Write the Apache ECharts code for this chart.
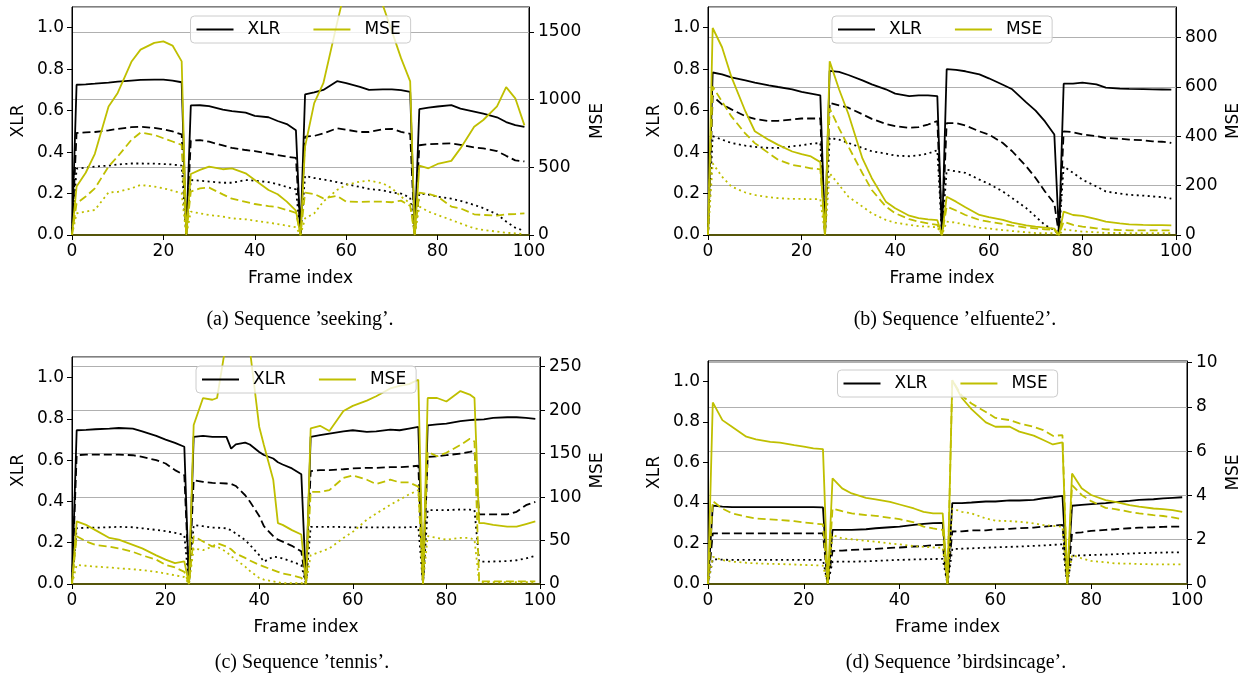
<!DOCTYPE html>
<html>
<head>
<meta charset="utf-8">
<script src="https://cdn.jsdelivr.net/npm/echarts@6/dist/echarts.min.js"></script>
<style>
  html, body { margin: 0; padding: 0; background: #fff; }
  #chart { width: 1245px; height: 678px; }
</style>
</head>
<body>
<div id="chart"></div>
<script>
// frames sampled for seeking, elfuente2 and birdsincage
const frames = [0,1,3,5,8,10,13,15,18,20,22,24, 25,26,28,30,33,35,38,40,43,45,47,49,
  50,51,53,55,58,60,63,65,68,70,72,74, 75,76,78,80,83,85,88,90,93,95,97,99];
// tennis has a few extra frames around the jumps
const tennisFrames = [0,1,3,5,8,10,13,15,18,20,22,24, 25,26,28,30,31,33,34,35,37,38,40,41,43,44,45,47,49,
  50,51,53,55,58,60,63,65,68,70,72,74, 75,76,78,80,83,85,86,87,88,90,93,95,97,99];

const xTicks = [0, 20, 40, 60, 80, 100];

// (a) seeking
const seekingXlr = [0,0.725,0.727,0.73,0.735,0.74,0.745,0.748,0.75,0.75,0.745,0.737,
  0,0.625,0.626,0.622,0.605,0.598,0.59,0.575,0.568,0.55,0.535,0.505,
  0,0.678,0.688,0.70,0.742,0.733,0.715,0.70,0.703,0.703,0.699,0.69,
  0,0.607,0.615,0.62,0.627,0.61,0.595,0.585,0.568,0.545,0.53,0.522];
const seekingXlrDash = [0,0.492,0.495,0.497,0.505,0.512,0.52,0.522,0.517,0.51,0.5,0.485,
  0,0.455,0.458,0.45,0.432,0.42,0.41,0.405,0.393,0.385,0.378,0.372,
  0,0.475,0.478,0.49,0.515,0.508,0.497,0.497,0.51,0.512,0.498,0.488,
  0,0.433,0.438,0.44,0.442,0.435,0.422,0.418,0.405,0.382,0.36,0.355];
const seekingXlrDot = [0,0.32,0.325,0.33,0.335,0.34,0.345,0.345,0.344,0.342,0.34,0.335,
  0,0.265,0.262,0.258,0.252,0.252,0.265,0.262,0.255,0.245,0.232,0.22,
  0,0.285,0.275,0.268,0.255,0.245,0.232,0.222,0.215,0.205,0.2,0.18,
  0,0.2,0.195,0.185,0.175,0.165,0.145,0.13,0.1,0.065,0.035,0.02];
const seekingMse = [0,358,460,600,950,1050,1280,1370,1420,1431,1400,1283,
  0,451,481,506,486,493,456,407,333,301,247,180,
  0,654,975,1122,1566,1850,2000,2000,1700,1505,1307,1135,
  0,513,493,525,548,640,800,850,950,1093,1010,810];
const seekingMseDash = [0,234,284,345,506,580,703,757,740,715,691,666,
  0,321,345,350,300,268,245,229,214,205,185,163,
  0,313,303,271,289,247,244,247,247,242,254,215,
  0,313,303,284,210,197,153,148,143,153,155,160];
const seekingMseDot = [0,160,173,185,315,318,345,370,358,345,328,308,
  0,173,160,148,136,123,116,106,91,81,69,57,
  0,123,160,247,333,370,395,402,382,345,284,234,
  0,210,173,148,111,86,49,37,25,17,12,7];

// (b) elfuente2
const elfXlr = [0,0.784,0.775,0.76,0.746,0.735,0.722,0.714,0.703,0.69,0.682,0.674,
  0,0.792,0.787,0.772,0.746,0.727,0.703,0.682,0.67,0.674,0.674,0.67,
  0,0.80,0.797,0.79,0.775,0.756,0.725,0.703,0.64,0.60,0.548,0.485,
  0,0.73,0.73,0.735,0.727,0.711,0.706,0.705,0.704,0.703,0.702,0.701];
const elfXlrDash = [0,0.67,0.63,0.606,0.573,0.56,0.55,0.551,0.557,0.562,0.562,0.562,
  0,0.638,0.625,0.614,0.582,0.56,0.536,0.525,0.517,0.52,0.533,0.55,
  0,0.54,0.54,0.528,0.50,0.485,0.444,0.404,0.331,0.275,0.21,0.153,
  0,0.50,0.496,0.485,0.477,0.468,0.465,0.46,0.457,0.452,0.45,0.444];
const elfXlrDot = [0,0.477,0.46,0.444,0.431,0.425,0.42,0.42,0.428,0.433,0.44,0.444,
  0,0.468,0.46,0.444,0.42,0.404,0.393,0.383,0.38,0.384,0.393,0.409,
  0,0.315,0.307,0.30,0.267,0.247,0.21,0.178,0.13,0.089,0.048,0.024,
  0,0.331,0.30,0.267,0.234,0.21,0.2,0.194,0.19,0.186,0.183,0.175];
const elfMse = [0,838,760,640,500,420,385,365,338,327,318,295,
  0,703,590,490,310,230,135,108,78,68,63,60,
  0,155,135,112,81,72,61,50,39,34,30,26,
  0,95,81,77,64,54,47,43,41,40,40,39];
const elfMseDash = [0,601,540,480,410,372,331,304,284,277,270,266,
  0,513,432,358,250,182,115,88,64,54,47,41,
  0,115,99,81,61,54,45,38,30,27,23,20,
  0,54,41,34,27,23,20,19,19,19,19,19];
const elfMseDot = [0,290,236,196,172,162,153,149,146,146,145,145,
  0,250,203,155,115,88,61,50,41,36,34,31,
  0,54,50,41,30,26,20,16,11,8,7,7,
  0,23,18,14,11,8,8,7,7,7,7,7];

// (c) tennis
const tennisXlr = [0,0.745,0.747,0.75,0.753,0.756,0.753,0.74,0.718,0.70,0.684,0.665,
  0,0.713,0.718,0.713,0.713,0.713,0.656,0.677,0.685,0.676,0.64,0.625,0.608,0.59,0.579,0.56,0.532,
  0,0.713,0.721,0.729,0.74,0.745,0.737,0.74,0.748,0.745,0.753,0.761,
  0,0.769,0.774,0.777,0.789,0.794,0.796,0.797,0.798,0.805,0.808,0.808,0.805,0.80];
const tennisXlrDash = [0,0.624,0.627,0.627,0.627,0.627,0.624,0.616,0.60,0.584,0.552,0.527,
  0,0.503,0.495,0.49,0.489,0.487,0.485,0.475,0.43,0.40,0.33,0.28,0.232,0.215,0.205,0.185,0.158,
  0,0.547,0.552,0.552,0.556,0.56,0.563,0.563,0.566,0.566,0.569,0.573,
  0,0.616,0.619,0.624,0.632,0.64,0.645,0.337,0.337,0.337,0.337,0.35,0.382,0.398];
const tennisXlrDot = [0,0.27,0.273,0.273,0.275,0.277,0.275,0.27,0.262,0.256,0.248,0.237,
  0,0.285,0.28,0.273,0.273,0.27,0.26,0.245,0.213,0.19,0.14,0.108,0.132,0.13,0.124,0.108,0.092,
  0,0.277,0.277,0.277,0.276,0.274,0.274,0.274,0.274,0.274,0.275,0.277,
  0,0.358,0.358,0.358,0.361,0.36,0.358,0.108,0.108,0.109,0.111,0.115,0.124,0.137];
const tennisMse = [0,72,68,62,53,51,45,41,33,28,24,26,
  0,183,214,212,214,280,300,300,290,270,181,160,120,70,68,62,57,
  0,179,182,176,199,205,211,216,225,228,230,235,
  0,214,214,210,222,218,214,70,70,68,66,66,69,72];
const tennisMseDash = [0,55,49,45,43,41,37,33,28,22,19,14,
  0,55,49,43,47,43,40,35,30,27,22,20,16,14,12,10,7,
  0,106,106,108,122,125,120,115,120,117,117,112,
  0,152,147,151,160,167,164,3,3,3,3,3,3,3];
const tennisMseDot = [0,22,21,20,19,18,17,16,14,12,10,8,
  0,41,39,43,43,37,32,28,20,15,7,5,3,2,1,1,1,
  0,33,37,41,53,60,74,81,91,97,103,108,
  0,55,53,51,53,53,51,2,2,2,2,2,2,2];

// (d) birdsincage
const birdsXlr = [0,0.387,0.382,0.379,0.379,0.379,0.379,0.379,0.379,0.379,0.379,0.378,
  0,0.267,0.267,0.267,0.27,0.275,0.28,0.283,0.292,0.297,0.30,0.301,
  0,0.399,0.399,0.402,0.407,0.407,0.412,0.412,0.415,0.423,0.428,0.435,
  0,0.386,0.39,0.394,0.399,0.404,0.41,0.415,0.418,0.422,0.425,0.428];
const birdsXlrDash = [0,0.25,0.25,0.25,0.25,0.25,0.25,0.25,0.25,0.25,0.25,0.25,
  0,0.163,0.165,0.168,0.171,0.173,0.178,0.18,0.185,0.187,0.191,0.193,
  0,0.259,0.26,0.264,0.265,0.269,0.272,0.275,0.278,0.283,0.287,0.292,
  0,0.25,0.255,0.262,0.267,0.27,0.275,0.278,0.28,0.282,0.283,0.283];
const birdsXlrDot = [0,0.122,0.12,0.119,0.119,0.119,0.119,0.119,0.119,0.119,0.119,0.119,
  0,0.11,0.11,0.11,0.112,0.114,0.117,0.119,0.121,0.122,0.123,0.124,
  0,0.173,0.174,0.176,0.179,0.181,0.183,0.185,0.188,0.19,0.193,0.196,
  0,0.14,0.141,0.143,0.145,0.147,0.15,0.152,0.154,0.155,0.156,0.156];
const birdsMse = [0,8.2,7.4,7.1,6.65,6.53,6.42,6.38,6.27,6.2,6.12,6.09,
  0,4.77,4.32,4.09,3.89,3.82,3.71,3.59,3.41,3.26,3.19,3.19,
  0,9.2,8.4,7.9,7.3,7.1,7.1,6.88,6.7,6.5,6.3,6.4,
  0,4.99,4.32,4.02,3.79,3.71,3.56,3.49,3.41,3.38,3.34,3.26];
const birdsMseDash = [0,3.74,3.41,3.19,3.04,2.96,2.92,2.89,2.84,2.78,2.74,2.69,
  0,3.41,3.29,3.19,3.11,3.08,2.99,2.93,2.78,2.59,2.51,2.44,
  0,9.2,8.5,8.15,7.77,7.5,7.4,7.25,7.1,6.95,6.69,6.72,
  0,4.47,4.02,3.74,3.44,3.38,3.26,3.19,3.11,3.07,3.01,2.93];
const birdsMseDot = [0,1.23,1.08,1.01,0.96,0.93,0.91,0.9,0.88,0.86,0.85,0.83,
  0,2.21,2.06,2.02,1.95,1.91,1.83,1.79,1.71,1.68,1.65,1.64,
  0,3.41,3.26,3.19,2.96,2.86,2.84,2.81,2.74,2.66,2.62,2.59,
  0,1.31,1.16,1.04,0.98,0.93,0.92,0.9,0.89,0.89,0.89,0.89];

const captions = ['(a) Sequence \u2019seeking\u2019.', '(b) Sequence \u2019elfuente2\u2019.',
  '(c) Sequence \u2019tennis\u2019.', '(d) Sequence \u2019birdsincage\u2019.'];
const mseMax = [1685, 923, 261.2, 10.07];
const mseStep = [500, 200, 50, 2];

const chart = echarts.init(document.getElementById('chart'));

const BLACK = '#000000';
const OLIVE = '#bfbf00';
const FONT = 'DejaVu Sans';

// plot boxes, in pixels
const boxes = [
  { left: 72, top: 7, width: 457, height: 228, mseGap: 60, cap: 300, capTop: 310 },
  { left: 708, top: 7, width: 468, height: 228, mseGap: 49, cap: 955, capTop: 310 },
  { left: 72, top: 357, width: 468, height: 227, mseGap: 49, cap: 302, capTop: 653 },
  { left: 708, top: 361, width: 479, height: 223, mseGap: 38, cap: 956, capTop: 653 }
];

const plots = [
  { f: frames, v: [seekingXlr, seekingXlrDash, seekingXlrDot, seekingMse, seekingMseDash, seekingMseDot] },
  { f: frames, v: [elfXlr, elfXlrDash, elfXlrDot, elfMse, elfMseDash, elfMseDot] },
  { f: tennisFrames, v: [tennisXlr, tennisXlrDash, tennisXlrDot, tennisMse, tennisMseDash, tennisMseDot] },
  { f: frames, v: [birdsXlr, birdsXlrDash, birdsXlrDot, birdsMse, birdsMseDash, birdsMseDot] }
];

function pairs(f, vals) {
  return f.map((x, i) => [x, vals[i]]);
}

const labelStyle = { color: BLACK, fontFamily: FONT, fontSize: 17 };
const tickStyle = { show: true, inside: false, length: 5, lineStyle: { color: BLACK, width: 1 } };

const grid = [], xAxis = [], yAxis = [], series = [], legend = [], title = [];

boxes.forEach((b, i) => {
  grid.push({ left: b.left, top: b.top, width: b.width, height: b.height,
    show: true, borderColor: BLACK, borderWidth: 1, backgroundColor: 'transparent' });

  xAxis.push({
    gridIndex: i, type: 'value', min: 0, max: 100, interval: xTicks[1] - xTicks[0],
    name: 'Frame index', nameLocation: 'middle', nameGap: 35,
    nameTextStyle: labelStyle,
    axisLine: { show: true, onZero: false, lineStyle: { color: '#55550a', width: 2 } },
    axisTick: tickStyle,
    axisLabel: { ...labelStyle, margin: 8 },
    splitLine: { show: false }
  });

  yAxis.push({
    gridIndex: i, type: 'value', position: 'left', min: 0, max: 1.1, interval: 0.2,
    name: 'XLR', nameLocation: 'middle', nameGap: 45, nameRotate: 90,
    nameTextStyle: labelStyle,
    axisLine: { show: true, lineStyle: { color: BLACK, width: 1 } },
    axisTick: tickStyle,
    axisLabel: { ...labelStyle, margin: 8, showMaxLabel: false, formatter: v => v.toFixed(1) },
    splitLine: { show: false }
  });

  yAxis.push({
    gridIndex: i, type: 'value', position: 'right', min: 0, max: mseMax[i], interval: mseStep[i],
    name: 'MSE', nameLocation: 'middle', nameGap: b.mseGap, nameRotate: 90,
    nameTextStyle: labelStyle,
    axisLine: { show: true, lineStyle: { color: BLACK, width: 1 } },
    axisTick: tickStyle,
    axisLabel: { ...labelStyle, margin: 9, showMaxLabel: false, formatter: v => String(v) },
    splitLine: { show: true, lineStyle: { color: '#b0b0b0', width: 1 } }
  });

  const p = plots[i];
  const kinds = [
    { name: 'XLR', color: BLACK, type: 'solid', ax: 0 },
    { name: 'XLR dashed', color: BLACK, type: [8, 4], ax: 0 },
    { name: 'XLR dotted', color: BLACK, type: [2, 3.5], ax: 0 },
    { name: 'MSE', color: OLIVE, type: 'solid', ax: 1 },
    { name: 'MSE dashed', color: OLIVE, type: [8, 4], ax: 1 },
    { name: 'MSE dotted', color: OLIVE, type: [2, 3.5], ax: 1 }
  ];
  kinds.forEach((k, j) => {
    series.push({
      name: k.name, type: 'line', xAxisIndex: i, yAxisIndex: 2 * i + k.ax,
      data: pairs(p.f, p.v[j]),
      symbol: 'none', showSymbol: false, clip: true,
      lineStyle: { color: k.color, width: 1.8, type: k.type },
      itemStyle: { color: k.color },
      z: 2 + k.ax
    });
  });

  legend.push({
    data: ['XLR', 'MSE'], selectedMode: false, icon: 'rect',
    left: b.left + b.width / 2 - 110, top: b.top + 9,
    orient: 'horizontal', itemWidth: 37, itemHeight: 2, itemGap: 33,
    padding: [5, 10, 5, 6],
    backgroundColor: 'rgba(255,255,255,0.8)',
    borderColor: '#cccccc', borderWidth: 1, borderRadius: 4,
    itemStyle: { borderWidth: 0 },
    textStyle: { ...labelStyle, padding: [0, 0, 0, 9] }
  });

  title.push({
    text: captions[i], left: b.cap, top: b.capTop, textAlign: 'center', padding: 0,
    textStyle: { fontFamily: 'Liberation Serif', fontSize: 20, fontWeight: 'normal', color: BLACK }
  });
});

chart.setOption({
  animation: false,
  backgroundColor: '#ffffff',
  textStyle: { fontFamily: FONT },
  title, legend, grid, xAxis, yAxis, series
});
</script>
</body>
</html>
